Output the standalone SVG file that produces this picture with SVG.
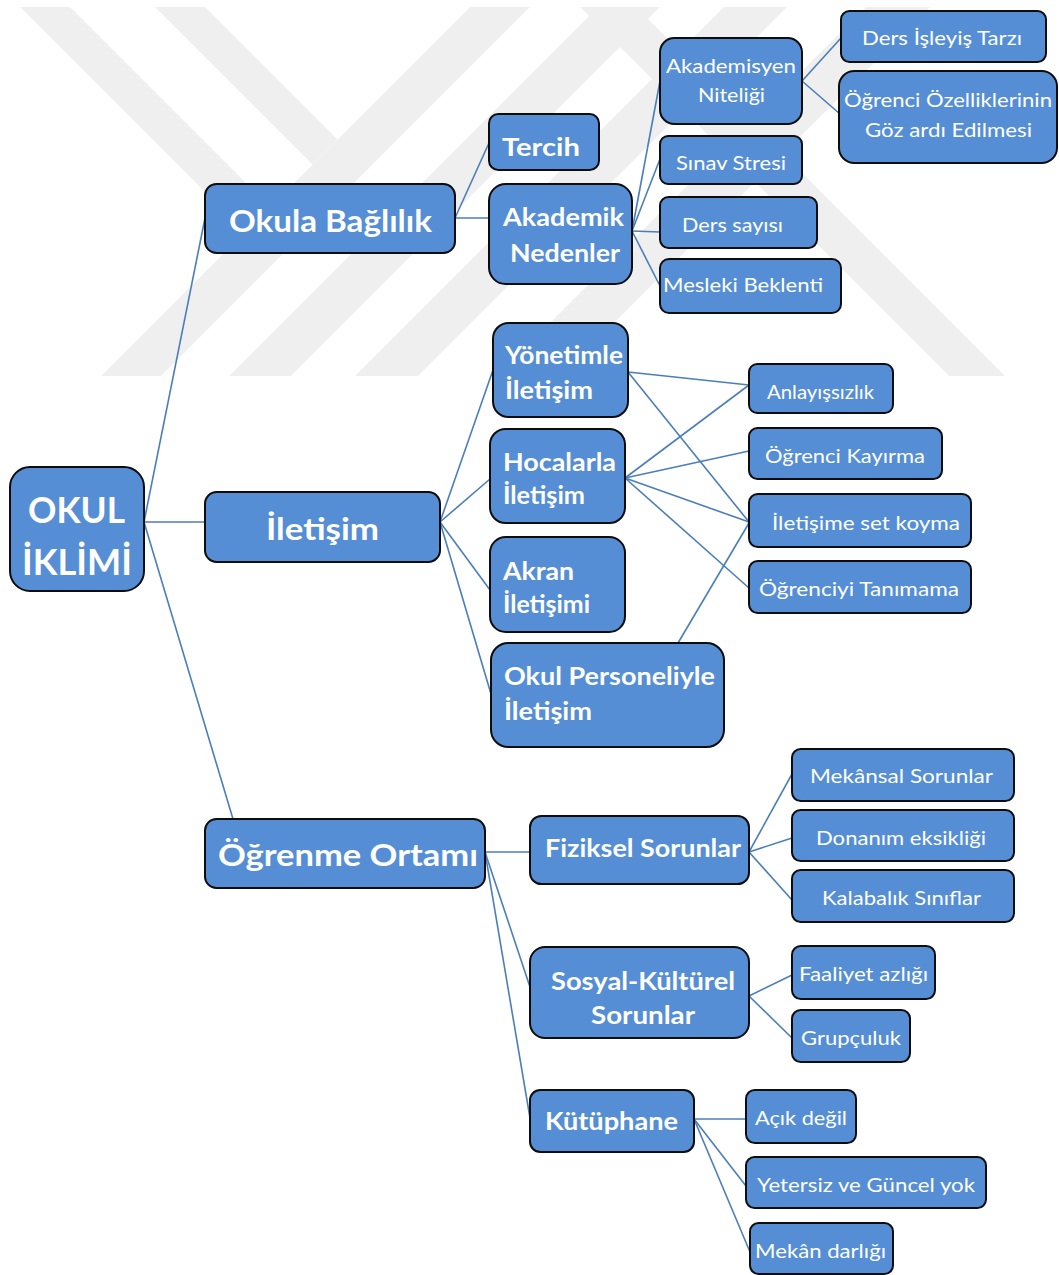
<svg xmlns="http://www.w3.org/2000/svg" width="1059" height="1275" viewBox="0 0 1059 1275">
  <defs>
    <clipPath id="wmClip">
      <rect x="0" y="7" width="1059" height="369"/>
    </clipPath>
    <style>
      .box { fill: #558ed5; stroke: #0d0d0d; stroke-width: 2; }
      .link { stroke: #4a7ebb; stroke-width: 1.6; fill: none; }
      .wm { fill: #efefef; }
      text { fill: #ffffff; font-family: Lato, "Open Sans", "Liberation Sans", sans-serif; }
      .t0 { font-size: 36px; font-weight: bold; }
      .t1 { font-size: 31px; font-weight: bold; }
      .t2 { font-size: 25px; font-weight: bold; }
      .t3 { font-size: 20px; font-weight: normal; }
    </style>
  </defs>

  <rect x="0" y="0" width="1059" height="1275" fill="#ffffff"/>

  <!-- faint background emblem made of diagonal stripes -->
  <g id="watermark" clip-path="url(#wmClip)">
    <polygon class="wm" points="20,7 70,7 270,207 245,232"/>
    <polygon class="wm" points="155,7 205,7 337.5,139.5 312.5,164.5"/>
    <polygon class="wm" points="470,7 530,7 161,376 101,376"/>
    <polygon class="wm" points="598,7 660,7 291,376 229,376"/>
    <polygon class="wm" points="580,7 636,7 1005,376 949,376"/>
    <polygon class="wm" points="724,7 787,7 418,376 355,376"/>
    <polygon class="wm" points="866,7 930,7 561,376 497,376"/>
  </g>

  <!-- connectors -->
  <g id="connectors">
    <line class="link" x1="144" y1="522" x2="205" y2="218"/>
    <line class="link" x1="144" y1="522" x2="205" y2="522"/>
    <line class="link" x1="144" y1="522" x2="233" y2="819"/>

    <line class="link" x1="455" y1="218" x2="489" y2="143"/>
    <line class="link" x1="455" y1="218" x2="489" y2="218"/>

    <line class="link" x1="632" y1="231" x2="660" y2="81"/>
    <line class="link" x1="632" y1="231" x2="660" y2="159"/>
    <line class="link" x1="632" y1="231" x2="660" y2="232"/>
    <line class="link" x1="632" y1="231" x2="660" y2="286"/>

    <line class="link" x1="802" y1="81" x2="841" y2="38"/>
    <line class="link" x1="802" y1="81" x2="840" y2="114"/>

    <line class="link" x1="440" y1="522" x2="493" y2="370"/>
    <line class="link" x1="440" y1="522" x2="490" y2="479"/>
    <line class="link" x1="440" y1="522" x2="490" y2="590"/>
    <line class="link" x1="440" y1="522" x2="491" y2="694"/>

    <line class="link" x1="628" y1="372" x2="749" y2="385"/>
    <line class="link" x1="628" y1="372" x2="749" y2="522"/>

    <line class="link" x1="625" y1="478" x2="749" y2="385"/>
    <line class="link" x1="625" y1="478" x2="749" y2="451"/>
    <line class="link" x1="625" y1="478" x2="749" y2="522"/>
    <line class="link" x1="625" y1="478" x2="749" y2="588"/>

    <line class="link" x1="678" y1="643" x2="749" y2="523"/>

    <line class="link" x1="485" y1="852" x2="530" y2="852"/>
    <line class="link" x1="485" y1="852" x2="530" y2="987"/>
    <line class="link" x1="485" y1="852" x2="530" y2="1118"/>

    <line class="link" x1="749" y1="852" x2="792" y2="774"/>
    <line class="link" x1="749" y1="852" x2="792" y2="838"/>
    <line class="link" x1="749" y1="852" x2="792" y2="900"/>

    <line class="link" x1="749" y1="996" x2="792" y2="975"/>
    <line class="link" x1="749" y1="996" x2="792" y2="1038"/>

    <line class="link" x1="694" y1="1119" x2="746" y2="1119"/>
    <line class="link" x1="694" y1="1119" x2="746" y2="1186"/>
    <line class="link" x1="694" y1="1119" x2="750" y2="1252"/>
  </g>

  <!-- root -->
  <g id="okul-iklimi">
    <rect class="box" x="10" y="467" width="134" height="124" rx="20"/>
    <text class="t0" x="28" y="523" textLength="97" lengthAdjust="spacingAndGlyphs">OKUL</text>
    <text class="t0" x="22" y="575" textLength="110" lengthAdjust="spacingAndGlyphs">İKLİMİ</text>
  </g>

  <!-- first level -->
  <g id="okula-baglilik">
    <rect class="box" x="205" y="184" width="250" height="69" rx="11.5"/>
    <text class="t1" x="229" y="232" textLength="203" lengthAdjust="spacingAndGlyphs">Okula Bağlılık</text>
  </g>
  <g id="iletisim">
    <rect class="box" x="205" y="492" width="235" height="70" rx="11.7"/>
    <text class="t1" x="266" y="540" textLength="113" lengthAdjust="spacingAndGlyphs">İletişim</text>
  </g>
  <g id="ogrenme-ortami">
    <rect class="box" x="205" y="819" width="280" height="69" rx="11.5"/>
    <text class="t1" x="218" y="866" textLength="260" lengthAdjust="spacingAndGlyphs">Öğrenme Ortamı</text>
  </g>

  <!-- Okula Bağlılık branch -->
  <g id="tercih">
    <rect class="box" x="489" y="114" width="110" height="56" rx="9.3"/>
    <text class="t2" x="502" y="156" textLength="78" lengthAdjust="spacingAndGlyphs">Tercih</text>
  </g>
  <g id="akademik-nedenler">
    <rect class="box" x="489" y="184" width="143" height="100" rx="16.7"/>
    <text class="t2" x="503" y="226" textLength="121" lengthAdjust="spacingAndGlyphs">Akademik</text>
    <text class="t2" x="510" y="262" textLength="110" lengthAdjust="spacingAndGlyphs">Nedenler</text>
  </g>
  <g id="akademisyen-niteligi">
    <rect class="box" x="660" y="38" width="142" height="86" rx="14.3"/>
    <text class="t3" x="666" y="73" textLength="130" lengthAdjust="spacingAndGlyphs">Akademisyen</text>
    <text class="t3" x="698" y="102" textLength="67" lengthAdjust="spacingAndGlyphs">Niteliği</text>
  </g>
  <g id="sinav-stresi">
    <rect class="box" x="660" y="136" width="142" height="48" rx="8"/>
    <text class="t3" x="676" y="170" textLength="110" lengthAdjust="spacingAndGlyphs">Sınav Stresi</text>
  </g>
  <g id="ders-sayisi">
    <rect class="box" x="660" y="197" width="157" height="51" rx="8.5"/>
    <text class="t3" x="682" y="232" textLength="101" lengthAdjust="spacingAndGlyphs">Ders sayısı</text>
  </g>
  <g id="mesleki-beklenti">
    <rect class="box" x="660" y="259" width="181" height="54" rx="9"/>
    <text class="t3" x="663" y="292" textLength="160" lengthAdjust="spacingAndGlyphs">Mesleki Beklenti</text>
  </g>
  <g id="ders-isleyis-tarzi">
    <rect class="box" x="841" y="11" width="205" height="51" rx="8.5"/>
    <text class="t3" x="862" y="45" textLength="160" lengthAdjust="spacingAndGlyphs">Ders İşleyiş Tarzı</text>
  </g>
  <g id="ogrenci-ozellikleri">
    <rect class="box" x="839" y="71" width="218" height="92" rx="15.3"/>
    <text class="t3" x="844" y="107" textLength="208" lengthAdjust="spacingAndGlyphs">Öğrenci Özelliklerinin</text>
    <text class="t3" x="865" y="137" textLength="167" lengthAdjust="spacingAndGlyphs">Göz ardı Edilmesi</text>
  </g>

  <!-- İletişim branch -->
  <g id="yonetimle-iletisim">
    <rect class="box" x="493" y="323" width="135" height="94" rx="15.6"/>
    <text class="t2" x="505" y="364" textLength="118" lengthAdjust="spacingAndGlyphs">Yönetimle</text>
    <text class="t2" x="505" y="399" textLength="88" lengthAdjust="spacingAndGlyphs">İletişim</text>
  </g>
  <g id="hocalarla-iletisim">
    <rect class="box" x="490" y="429" width="135" height="94" rx="15.6"/>
    <text class="t2" x="503" y="471" textLength="113" lengthAdjust="spacingAndGlyphs">Hocalarla</text>
    <text class="t2" x="503" y="504" textLength="82" lengthAdjust="spacingAndGlyphs">İletişim</text>
  </g>
  <g id="akran-iletisimi">
    <rect class="box" x="490" y="537" width="135" height="95" rx="15.8"/>
    <text class="t2" x="503" y="580" textLength="71" lengthAdjust="spacingAndGlyphs">Akran</text>
    <text class="t2" x="503" y="613" textLength="87" lengthAdjust="spacingAndGlyphs">İletişimi</text>
  </g>
  <g id="okul-personeli-iletisim">
    <rect class="box" x="491" y="643" width="233" height="104" rx="17.3"/>
    <text class="t2" x="504" y="685" textLength="211" lengthAdjust="spacingAndGlyphs">Okul Personeliyle</text>
    <text class="t2" x="504" y="720" textLength="88" lengthAdjust="spacingAndGlyphs">İletişim</text>
  </g>
  <g id="anlayissizlik">
    <rect class="box" x="749" y="364" width="144" height="49" rx="8.2"/>
    <text class="t3" x="767" y="399" textLength="107" lengthAdjust="spacingAndGlyphs">Anlayışsızlık</text>
  </g>
  <g id="ogrenci-kayirma">
    <rect class="box" x="749" y="428" width="193" height="51" rx="8.5"/>
    <text class="t3" x="765" y="463" textLength="160" lengthAdjust="spacingAndGlyphs">Öğrenci Kayırma</text>
  </g>
  <g id="iletisime-set-koyma">
    <rect class="box" x="749" y="494" width="222" height="53" rx="8.8"/>
    <text class="t3" x="772" y="530" textLength="188" lengthAdjust="spacingAndGlyphs">İletişime set koyma</text>
  </g>
  <g id="ogrenciyi-tanimama">
    <rect class="box" x="749" y="561" width="222" height="52" rx="8.7"/>
    <text class="t3" x="759" y="596" textLength="200" lengthAdjust="spacingAndGlyphs">Öğrenciyi Tanımama</text>
  </g>

  <!-- Öğrenme Ortamı branch -->
  <g id="fiziksel-sorunlar">
    <rect class="box" x="530" y="816" width="219" height="68" rx="11.3"/>
    <text class="t2" x="545" y="857" textLength="196" lengthAdjust="spacingAndGlyphs">Fiziksel Sorunlar</text>
  </g>
  <g id="mekansal-sorunlar">
    <rect class="box" x="792" y="749" width="222" height="52" rx="8.7"/>
    <text class="t3" x="810" y="783" textLength="183" lengthAdjust="spacingAndGlyphs">Mekânsal Sorunlar</text>
  </g>
  <g id="donanim-eksikligi">
    <rect class="box" x="792" y="810" width="222" height="51" rx="8.5"/>
    <text class="t3" x="816" y="845" textLength="170" lengthAdjust="spacingAndGlyphs">Donanım eksikliği</text>
  </g>
  <g id="kalabalik-siniflar">
    <rect class="box" x="792" y="870" width="222" height="52" rx="8.7"/>
    <text class="t3" x="822" y="905" textLength="159" lengthAdjust="spacingAndGlyphs">Kalabalık Sınıflar</text>
  </g>
  <g id="sosyal-kulturel">
    <rect class="box" x="530" y="947" width="219" height="91" rx="15"/>
    <text class="t2" x="551" y="990" textLength="184" lengthAdjust="spacingAndGlyphs">Sosyal-Kültürel</text>
    <text class="t2" x="591" y="1024" textLength="104" lengthAdjust="spacingAndGlyphs">Sorunlar</text>
  </g>
  <g id="faaliyet-azligi">
    <rect class="box" x="792" y="946" width="143" height="53" rx="8.8"/>
    <text class="t3" x="799" y="981" textLength="129" lengthAdjust="spacingAndGlyphs">Faaliyet azlığı</text>
  </g>
  <g id="grupculuk">
    <rect class="box" x="792" y="1010" width="118" height="52" rx="8.7"/>
    <text class="t3" x="801" y="1045" textLength="100" lengthAdjust="spacingAndGlyphs">Grupçuluk</text>
  </g>
  <g id="kutuphane">
    <rect class="box" x="530" y="1090" width="164" height="62" rx="10.3"/>
    <text class="t2" x="545" y="1130" textLength="133" lengthAdjust="spacingAndGlyphs">Kütüphane</text>
  </g>
  <g id="acik-degil">
    <rect class="box" x="746" y="1090" width="110" height="53" rx="8.8"/>
    <text class="t3" x="755" y="1125" textLength="92" lengthAdjust="spacingAndGlyphs">Açık değil</text>
  </g>
  <g id="yetersiz-guncel">
    <rect class="box" x="746" y="1157" width="240" height="51" rx="8.5"/>
    <text class="t3" x="757" y="1192" textLength="218" lengthAdjust="spacingAndGlyphs">Yetersiz ve Güncel yok</text>
  </g>
  <g id="mekan-darligi">
    <rect class="box" x="750" y="1223" width="143" height="51" rx="8.5"/>
    <text class="t3" x="755" y="1258" textLength="131" lengthAdjust="spacingAndGlyphs">Mekân darlığı</text>
  </g>
</svg>
